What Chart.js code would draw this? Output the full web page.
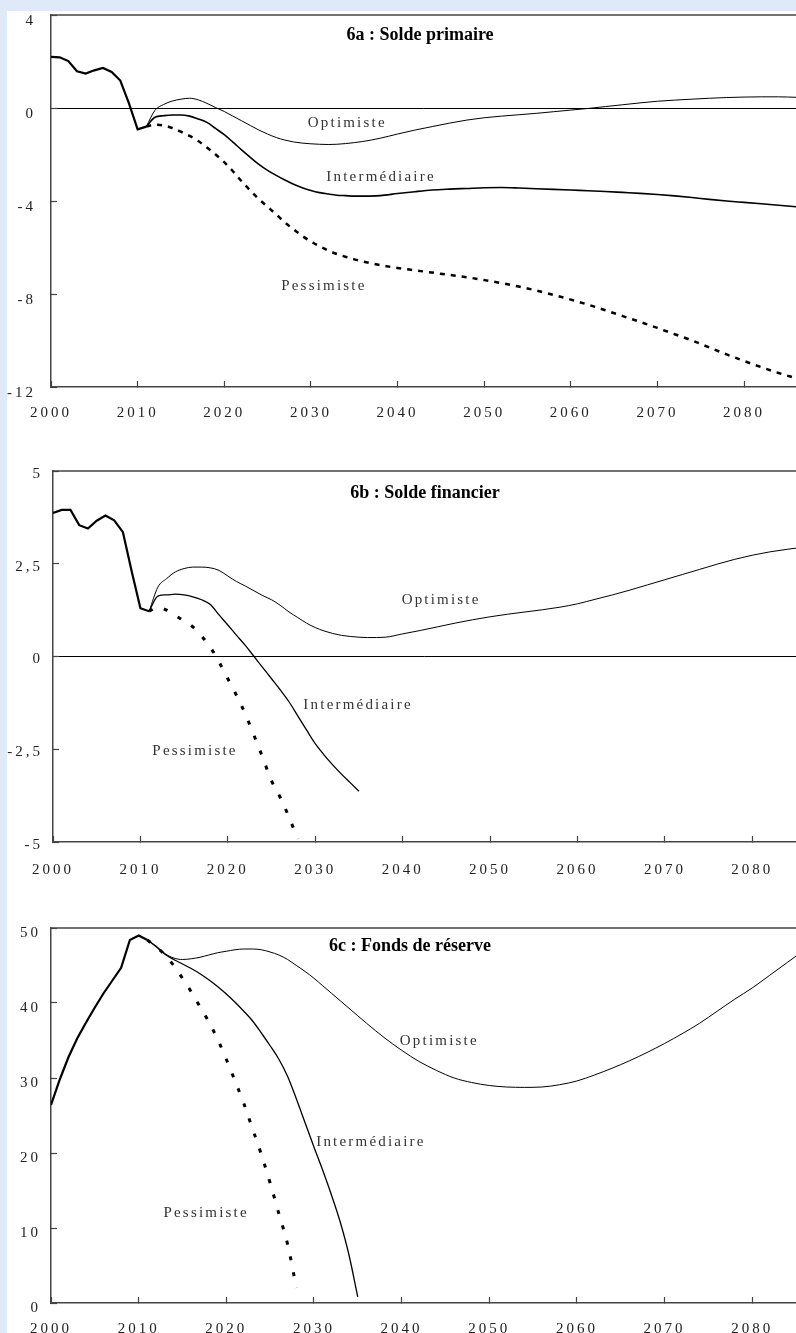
<!DOCTYPE html>
<html>
<head>
<meta charset="utf-8">
<script src="https://cdn.jsdelivr.net/npm/chart.js@4.4.1/dist/chart.umd.min.js"></script>
<style>
  body { margin: 0; width: 796px; height: 1333px; background: #dfe9f7; overflow: hidden; }
  #panel { position: absolute; left: 7px; top: 11px; width: 789px; height: 1322px; background: #fff; }
  .box { position: absolute; left: 7px; width: 789px; }
</style>
</head>
<body>
<div id="panel"></div>
<div class="box" style="top:11px;height:415px"><canvas id="c6a"></canvas></div>
<div class="box" style="top:440px;height:440px"><canvas id="c6b"></canvas></div>
<div class="box" style="top:890px;height:443px"><canvas id="c6c"></canvas></div>
<script>
// years
const YEARS_HIST = [2000, 2001, 2002, 2003, 2004, 2005, 2006, 2007, 2008, 2009, 2010, 2011];
const YEARS_SCEN = [2011, 2012, 2013, 2014, 2015, 2016, 2017, 2018, 2019, 2020,
  2021, 2022, 2023, 2024, 2025, 2026, 2027, 2028, 2029, 2030,
  2031, 2032, 2033, 2034, 2035, 2036,
  2038, 2040, 2042, 2044, 2046, 2048, 2050, 2052, 2054, 2056,
  2058, 2060, 2062, 2064, 2066, 2068, 2070, 2072, 2074, 2076,
  2078, 2080, 2082, 2084, 2086];
const X_TICKS = [2000, 2010, 2020, 2030, 2040, 2050, 2060, 2070, 2080];

// 6a : Solde primaire
const HIST_6A = [2.2, 2.18, 2.02, 1.58, 1.48, 1.62, 1.72, 1.55, 1.18, 0.2, -0.92, -0.8];
const OPT_6A = [-0.8, -0.1, 0.15, 0.3, 0.38, 0.42, 0.35, 0.2, 0.02, -0.15,
  -0.35, -0.55, -0.75, -0.95, -1.12, -1.27, -1.38, -1.46, -1.51, -1.54,
  -1.56, -1.57, -1.56, -1.53, -1.49, -1.44,
  -1.3, -1.12, -0.95, -0.8, -0.65, -0.52, -0.42, -0.35, -0.29, -0.23,
  -0.16, -0.09, -0.02, 0.06, 0.14, 0.22, 0.29, 0.34, 0.38, 0.42,
  0.45, 0.47, 0.48, 0.48, 0.46];
const INT_6A = [-0.8, -0.4, -0.33, -0.3, -0.3, -0.35, -0.47, -0.62, -0.88, -1.15,
  -1.47, -1.8, -2.12, -2.42, -2.68, -2.9, -3.1, -3.28, -3.43, -3.55,
  -3.64, -3.7, -3.75, -3.77, -3.79, -3.79,
  -3.77, -3.68, -3.6, -3.53, -3.49, -3.46, -3.43, -3.42, -3.44, -3.47,
  -3.5, -3.53, -3.56, -3.59, -3.63, -3.67, -3.72, -3.78, -3.85, -3.93,
  -4.0, -4.06, -4.12, -4.18, -4.25];
const PES_6A = [-0.8, -0.72, -0.75, -0.86, -1.02, -1.2, -1.42, -1.7, -2.0, -2.33,
  -2.72, -3.15, -3.55, -3.92, -4.25, -4.58, -4.92, -5.22, -5.5, -5.74,
  -5.95, -6.13, -6.28, -6.4, -6.51, -6.6,
  -6.76, -6.88, -6.98, -7.08, -7.18, -7.28, -7.4, -7.53, -7.68, -7.85,
  -8.04, -8.24, -8.46, -8.7, -8.95, -9.2, -9.46, -9.73, -10.0, -10.3,
  -10.6, -10.88, -11.15, -11.4, -11.62];
const Y_TICKS_6A = [-12, -8, -4, 0, 4];

// 6b : Solde financier
const HIST_6B = [3.87, 3.95, 3.95, 3.54, 3.45, 3.66, 3.8, 3.67, 3.35, 2.3, 1.3, 1.22];
const OPT_6B = [1.22, 1.87, 2.1, 2.28, 2.37, 2.41, 2.41, 2.39, 2.32, 2.17,
  2.02, 1.9, 1.77, 1.64, 1.53, 1.38, 1.2, 1.05, 0.9, 0.78,
  0.69, 0.62, 0.57, 0.54, 0.52, 0.51,
  0.52, 0.61, 0.7, 0.8, 0.9, 0.99, 1.07, 1.14, 1.2, 1.26,
  1.33, 1.42, 1.54, 1.66, 1.79, 1.93, 2.07, 2.21, 2.35, 2.49,
  2.62, 2.73, 2.82, 2.89, 2.95];
const INT_6B = [1.22, 1.63, 1.66, 1.68, 1.66, 1.61, 1.53, 1.4, 1.12, 0.85,
  0.57, 0.3, 0.0, -0.3, -0.6, -0.9, -1.22, -1.6, -1.98, -2.35,
  -2.65, -2.92, -3.17, -3.4, -3.63];
const PES_6B = [1.22, 1.33, 1.25, 1.1, 0.96, 0.8, 0.55, 0.25, -0.15, -0.6,
  -1.05, -1.55, -2.13, -2.73, -3.35, -3.8, -4.33, -4.92];
const Y_TICKS_6B = [-5, -2.5, 0, 2.5, 5];

// 6c : Fonds de réserve
const HIST_6C = [26.4, 29.8, 32.8, 35.3, 37.4, 39.4, 41.3, 43.0, 44.7, 48.4, 49.0, 48.4];
const OPT_6C = [48.4, 47.6, 46.6, 46.0, 45.8, 45.9, 46.1, 46.4, 46.7, 46.9,
  47.1, 47.2, 47.2, 47.1, 46.8, 46.4, 45.8, 45.0, 44.2, 43.3,
  42.3, 41.3, 40.3, 39.3, 38.3, 37.3,
  35.4, 33.7, 32.2, 31.0, 30.0, 29.4, 29.0, 28.8, 28.75, 28.8,
  29.1, 29.6, 30.4, 31.3, 32.3, 33.4, 34.6, 35.9, 37.3, 38.9,
  40.5, 42.0, 43.7, 45.4, 47.1];
const INT_6C = [48.4, 47.5, 46.5, 45.8, 45.2, 44.6, 43.9, 43.1, 42.2, 41.2,
  40.1, 38.9, 37.6, 36.0, 34.3, 32.5, 30.2, 27.2, 24.0, 20.8,
  17.7, 14.4, 10.8, 6.4, 0.8];
const PES_6C = [48.4, 47.5, 46.4, 45.0, 43.3, 41.5, 39.5, 37.5, 35.2, 32.5,
  29.6, 26.6, 23.2, 19.8, 16.0, 11.9, 7.8, 2.0];
const Y_TICKS_6C = [0, 10, 20, 30, 40, 50];

const SERIF = '"Liberation Serif", "DejaVu Serif", serif';

function pts(xs, ys) {
  return ys.map((y, i) => ({ x: xs[i], y: y }));
}

function line(data, width, dash, smooth) {
  return {
    data: data,
    borderColor: "#000",
    borderWidth: width,
    borderDash: dash || [],
    pointRadius: 0,
    fill: false,
    cubicInterpolationMode: smooth ? "monotone" : "default",
    tension: 0,
  };
}

// frame top line, panel title and scenario names
const decor = {
  id: "decor",
  beforeDraw(chart) {
    chart.ctx.letterSpacing = "3px";
  },
  afterDraw(chart, args, opts) {
    const { ctx, chartArea, scales } = chart;
    ctx.save();
    ctx.letterSpacing = "0px";
    ctx.strokeStyle = "#444";
    ctx.lineWidth = 1.5;
    ctx.beginPath();
    ctx.moveTo(chartArea.left, chartArea.top);
    ctx.lineTo(chartArea.right, chartArea.top);
    ctx.stroke();

    ctx.fillStyle = "#000";
    ctx.textAlign = "center";
    ctx.textBaseline = "middle";
    ctx.font = "bold 18px " + SERIF;
    ctx.fillText(opts.title, chartArea.left + opts.titleX, chartArea.top + opts.titleY);

    ctx.font = "15px " + SERIF;
    ctx.letterSpacing = "2.2px";
    ctx.fillStyle = "#333";
    opts.names.forEach((n) => {
      ctx.fillText(n.text, scales.x.getPixelForValue(n.x), scales.y.getPixelForValue(n.y));
    });
    ctx.restore();
  },
};

function makeChart(id, p) {
  const datasets = [
    line(pts(YEARS_SCEN, p.opt), 1, null, true),
    line(pts(YEARS_SCEN, p.int), p.intWidth, null, true),
    line(pts(YEARS_SCEN, p.pes), p.pesWidth, p.pesDash, true),
    line(pts(YEARS_HIST, p.hist), 2.2, null, false),
  ];
  return new Chart(document.getElementById(id), {
    type: "line",
    data: { datasets: datasets },
    options: {
      responsive: true,
      maintainAspectRatio: false,
      animation: false,
      layout: { autoPadding: false, padding: { top: p.padTop, left: 0, right: 0, bottom: 0 } },
      plugins: {
        legend: { display: false },
        tooltip: { enabled: false },
        decor: { title: p.title, titleX: p.titleX, titleY: p.titleY, names: p.names },
      },
      scales: {
        x: {
          type: "linear",
          min: 2000,
          max: p.xMax,
          afterBuildTicks: (s) => { s.ticks = X_TICKS.map((v) => ({ value: v })); },
          afterFit: (s) => { s.height = p.xHeight; s.paddingLeft = 0; s.paddingRight = 0; },
          border: { display: true, color: "#444", width: 1.5 },
          grid: { drawOnChartArea: false, tickLength: -6, tickColor: "#444", tickWidth: 1.2 },
          ticks: {
            autoSkip: false,
            maxRotation: 0,
            padding: p.xPad,
            color: "#222",
            font: { family: SERIF, size: 15 },
            callback: (v) => String(v),
          },
        },
        y: {
          type: "linear",
          min: p.yMin,
          max: p.yMax,
          afterBuildTicks: (s) => { s.ticks = p.yTicks.map((v) => ({ value: v })); },
          afterFit: (s) => { s.width = p.yWidth; s.paddingTop = 0; s.paddingBottom = 0; },
          border: { display: true, color: "#444", width: 1.5 },
          grid: {
            drawOnChartArea: true,
            color: (c) => (p.zeroLine && c.tick && c.tick.value === 0 ? "#000" : "rgba(0,0,0,0)"),
            lineWidth: 1,
            tickLength: -6,
            tickColor: "#444",
            tickWidth: 1.2,
          },
          ticks: {
            padding: p.yPad,
            labelOffset: p.yShift,
            color: "#222",
            font: { family: SERIF, size: 15 },
            callback: (v) => String(v).replace(".", ","),
          },
        },
      },
    },
    plugins: [decor],
  });
}

makeChart("c6a", {
  hist: HIST_6A, opt: OPT_6A, int: INT_6A, pes: PES_6A,
  intWidth: 1.6, pesWidth: 2.5, pesDash: [5, 6],
  xMax: 2086, yMin: -12, yMax: 4, yTicks: Y_TICKS_6A, zeroLine: true,
  padTop: 4, xHeight: 39, yWidth: 44, yPad: 21, yShift: 6, xPad: 23,
  title: "6a : Solde primaire", titleX: 369, titleY: 20,
  names: [
    { text: "Optimiste", x: 2034.2, y: -0.65 },
    { text: "Intermédiaire", x: 2038.1, y: -2.97 },
    { text: "Pessimiste", x: 2031.5, y: -7.66 },
  ],
});

makeChart("c6b", {
  hist: HIST_6B, opt: OPT_6B, int: INT_6B, pes: PES_6B,
  intWidth: 1.3, pesWidth: 3, pesDash: [4, 12],
  xMax: 2085, yMin: -5, yMax: 5, yTicks: Y_TICKS_6B, zeroLine: true,
  padTop: 31, xHeight: 38, yWidth: 46, yPad: 16, yShift: 3, xPad: 25,
  title: "6b : Solde financier", titleX: 372, titleY: 22,
  names: [
    { text: "Optimiste", x: 2044.4, y: 1.52 },
    { text: "Intermédiaire", x: 2034.9, y: -1.31 },
    { text: "Pessimiste", x: 2016.25, y: -2.55 },
  ],
});

makeChart("c6c", {
  hist: HIST_6C, opt: OPT_6C, int: INT_6C, pes: PES_6C,
  intWidth: 1.3, pesWidth: 3, pesDash: [4, 12],
  xMax: 2085, yMin: 0, yMax: 50, yTicks: Y_TICKS_6C, zeroLine: false,
  padTop: 38, xHeight: 30, yWidth: 44, yPad: 16, yShift: 5, xPad: 23,
  title: "6c : Fonds de réserve", titleX: 359, titleY: 18,
  names: [
    { text: "Optimiste", x: 2044.3, y: 34.9 },
    { text: "Intermédiaire", x: 2036.5, y: 21.5 },
    { text: "Pessimiste", x: 2017.7, y: 12.0 },
  ],
});
</script>
</body>
</html>
